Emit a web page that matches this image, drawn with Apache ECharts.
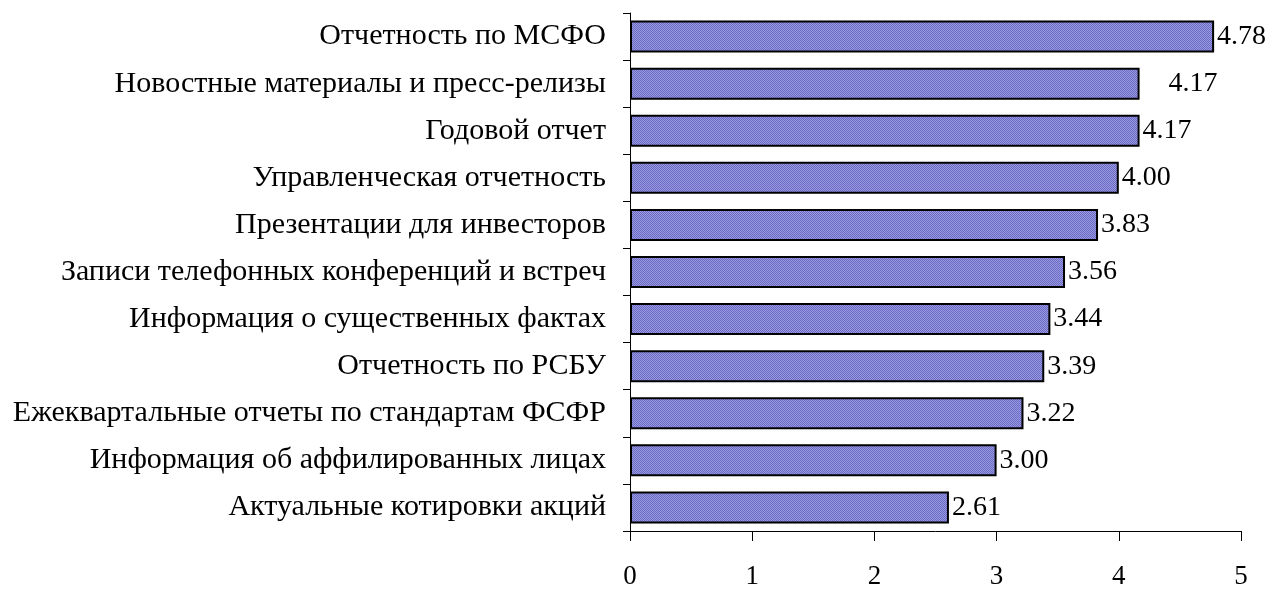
<!DOCTYPE html>
<html>
<head>
<meta charset="utf-8">
<script src="https://cdn.jsdelivr.net/npm/echarts@6/dist/echarts.min.js"></script>
<style>html,body{margin:0;padding:0;background:#fff;}#c{width:1271px;height:590px;}</style>
</head>
<body>
<div id="c"></div>
<script>
const categories = [
  "Отчетность по МСФО",
  "Новостные материалы и пресс-релизы",
  "Годовой отчет",
  "Управленческая отчетность",
  "Презентации для инвесторов",
  "Записи телефонных конференций и встреч",
  "Информация о существенных фактах",
  "Отчетность по РСБУ",
  "Ежеквартальные отчеты по стандартам ФСФР",
  "Информация об аффилированных лицах",
  "Актуальные котировки акций"
];
const values = [4.78, 4.17, 4.17, 4.00, 3.83, 3.56, 3.44, 3.39, 3.22, 3.00, 2.61];
const xTicks = [0, 1, 2, 3, 4, 5];

// dotted fill pattern
const pc = document.createElement('canvas');
pc.width = 4; pc.height = 4;
const g = pc.getContext('2d');
g.fillStyle = '#9a9ae4'; g.fillRect(0,0,4,4);
g.fillStyle = '#6a6ac0';
g.fillRect(0,0,1,1); g.fillRect(2,0,1,1); g.fillRect(1,1,1,1); g.fillRect(3,1,1,1);
g.fillRect(0,2,1,1); g.fillRect(2,2,1,1); g.fillRect(1,3,1,1); g.fillRect(3,3,1,1);

const font = '"Liberation Serif", "Times New Roman", serif';
const chart = echarts.init(document.getElementById('c'), null, {renderer: 'canvas'});
chart.setOption({
  animation: false,
  grid: {left: 630, right: 30, top: 13, bottom: 59, containLabel: false},
  xAxis: {
    type: 'value', min: 0, max: 5, interval: 1,
    axisLine: {show: true, lineStyle: {color: '#000', width: 1}},
    axisTick: {show: true, length: 10, inside: false, lineStyle: {color: '#000'}},
    splitLine: {show: false},
    axisLabel: {fontFamily: font, fontSize: 27, color: '#000', margin: 32,
      formatter: v => xTicks.includes(v) ? String(v) : ''}
  },
  yAxis: {
    type: 'category', inverse: true, data: categories,
    axisLine: {show: true, lineStyle: {color: '#000', width: 1}},
    axisTick: {show: true, length: 7, lineStyle: {color: '#000'}},
    axisLabel: {fontFamily: font, fontSize: 30, color: '#000', margin: 24}
  },
  series: [{
    type: 'bar',
    data: values.map((v, i) => ({
      value: v,
      label: i === 1 ? {offset: [26, 0]} : undefined
    })),
    barCategoryGap: '32%',
    itemStyle: {color: {image: pc, repeat: 'repeat'}, borderColor: '#000', borderWidth: 2},
    label: {show: true, position: 'right', distance: 3, fontFamily: font, fontSize: 28, color: '#000',
      formatter: p => p.value.toFixed(2)}
  }]
});
</script>
</body>
</html>
